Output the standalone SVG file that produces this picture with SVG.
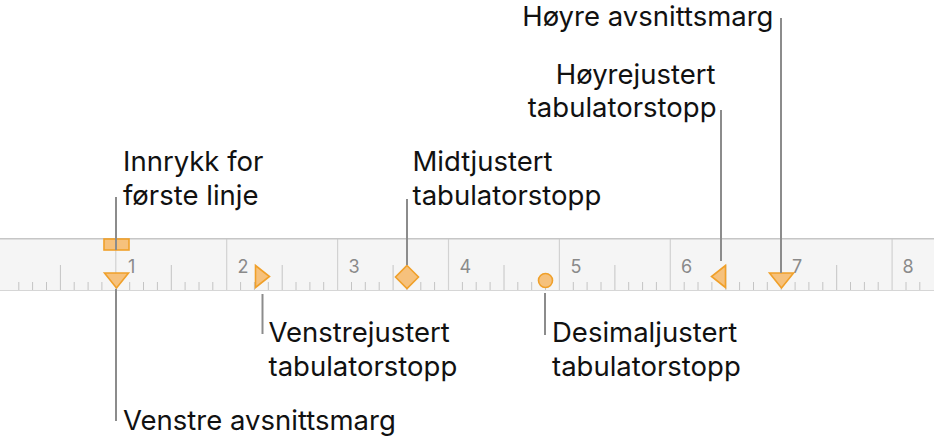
<svg xmlns="http://www.w3.org/2000/svg" width="934" height="442" viewBox="0 0 934 442">
<style>
.lbl{font-family:Inter,"Liberation Sans",sans-serif;font-size:27.5px;fill:#111;}
.num{font-family:Inter,"Liberation Sans",sans-serif;font-size:18px;fill:#8a8a8a;}
.mk{fill:#f6c17c;stroke:#f0a02a;stroke-width:1.6;stroke-linejoin:miter;}
.con{stroke:#8c8c8c;stroke-width:2;fill:none;}
.tick{stroke:#c4c4c4;stroke-width:1;fill:none;}
.major{stroke:#d2d2d2;stroke-width:1.2;fill:none;}
</style>
<rect width="934" height="442" fill="#ffffff"/>
<g id="ruler">
<rect x="0" y="239" width="934" height="51" fill="#f5f5f5"/>
<path class="major" d="M115.8 239V290M226.7 239V290M337.6 239V290M448.5 239V290M559.4 239V290M670.3 239V290M781.2 239V290M892.1 239V290"/>
<path class="tick" d="M18.8 282V290M32.6 282V290M46.5 282V290M60.4 265V290M74.2 282V290M88.1 282V290M101.9 282V290
M129.7 282V290M143.5 282V290M157.4 282V290M171.3 265V290M185.1 282V290M199 282V290M212.8 282V290
M240.6 282V290M254.4 282V290M268.3 282V290M282.2 265V290M296 282V290M309.9 282V290M323.7 282V290
M351.5 282V290M365.3 282V290M379.2 282V290M393.1 265V290M406.9 282V290M420.8 282V290M434.6 282V290
M462.4 282V290M476.2 282V290M490.1 282V290M504 265V290M517.8 282V290M531.7 282V290M545.5 282V290
M573.3 282V290M587.1 282V290M601 282V290M614.9 265V290M628.7 282V290M642.6 282V290M656.4 282V290
M684.2 282V290M698 282V290M711.9 282V290M725.8 265V290M739.6 282V290M753.5 282V290M767.3 282V290
M795.1 282V290M808.9 282V290M822.8 282V290M836.7 265V290M850.5 282V290M864.4 282V290M878.2 282V290
M906 282V290M919.8 282V290"/>
<line x1="0" y1="238.8" x2="934" y2="238.8" stroke="#c6c6c6" stroke-width="1.6"/>
<line x1="0" y1="290.5" x2="934" y2="290.5" stroke="#d6d6d6" stroke-width="1.2"/>
<text class="num" x="128" y="273">1</text>
<text class="num" x="237.5" y="273">2</text>
<text class="num" x="348.5" y="273">3</text>
<text class="num" x="459.5" y="273">4</text>
<text class="num" x="570.5" y="273">5</text>
<text class="num" x="681" y="273">6</text>
<text class="num" x="792" y="273">7</text>
<text class="num" x="902.5" y="273">8</text>
</g>
<g id="first-line-indent">
<rect class="mk" x="104" y="239" width="25" height="11"/>
<text class="lbl" x="123" y="171">Innrykk for</text>
<text class="lbl" x="123" y="205">første linje</text>
</g>
<g id="left-margin">
<path class="mk" d="M104.5 273H128.5L116.5 288Z"/>
<text class="lbl" x="123" y="430">Venstre avsnittsmarg</text>
</g>
<g id="left-tab">
<path class="mk" d="M255.5 265.5V287.5L269.5 276.5Z"/>
<text class="lbl" x="268.5" y="342">Venstrejustert</text>
<text class="lbl" x="268.5" y="376">tabulatorstopp</text>
</g>
<g id="center-tab">
<path class="mk" d="M407 265.5L418.5 277L407 288.5L395.5 277Z"/>
<text class="lbl" x="412.5" y="171">Midtjustert</text>
<text class="lbl" x="412.5" y="205">tabulatorstopp</text>
</g>
<g id="decimal-tab">
<circle class="mk" cx="545.5" cy="280.5" r="7"/>
<text class="lbl" x="552" y="342">Desimaljustert</text>
<text class="lbl" x="552" y="376">tabulatorstopp</text>
</g>
<g id="right-tab">
<path class="mk" d="M725.5 265.5V287.5L711.5 276.5Z"/>
<text class="lbl" x="715.5" y="84" text-anchor="end">Høyrejustert</text>
<text class="lbl" x="716.5" y="117" text-anchor="end">tabulatorstopp</text>
</g>
<g id="right-margin">
<path class="mk" d="M769.5 273H793.5L781.5 288Z"/>
<text class="lbl" x="773.5" y="26" text-anchor="end">Høyre avsnittsmarg</text>
</g>
<g id="connectors">
<path class="con" d="M116 197V250"/>
<path class="con" d="M116 289V421"/>
<path class="con" d="M262.5 294V334"/>
<path class="con" d="M407 199V265"/>
<path class="con" d="M545 293V335"/>
<path class="con" d="M721 110V261"/>
<path class="con" d="M781 18V273"/>
</g>
</svg>
